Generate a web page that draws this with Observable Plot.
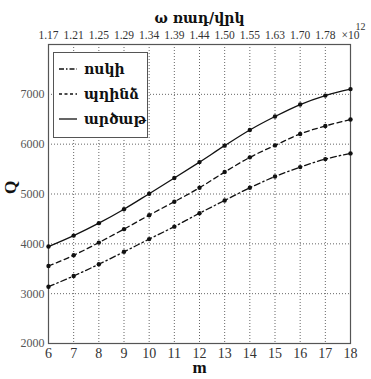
<!DOCTYPE html>
<html><head><meta charset="utf-8">
<script src="https://cdn.jsdelivr.net/npm/d3@7"></script>
<script src="https://cdn.jsdelivr.net/npm/@observablehq/plot@0.6"></script>
<style>
body{margin:0;background:#fff}
#wrap{position:relative;width:371px;height:379px}
#legend{position:absolute;left:53px;top:52px;width:95px;height:86px;border:1px solid #555;background:#fff;box-sizing:border-box;font-family:"DejaVu Serif","Liberation Serif",serif;font-weight:bold;font-size:14px;color:#111}
#legend .row{position:absolute;left:4px;height:20px;display:flex;align-items:center}
#legend svg{margin-right:6px}
</style>
</head><body><div id="wrap"></div>
<script>
const m = [6, 7, 8, 9, 10, 11, 12, 13, 14, 15, 16, 17, 18];
const omegaLabels = ["1.17","1.21","1.25","1.29","1.34","1.39","1.44","1.50","1.55","1.63","1.70","1.78","×10"];
const gold   = [3140, 3355, 3590, 3840, 4095, 4345, 4615, 4870, 5125, 5350, 5540, 5700, 5815];
const copper = [3555, 3770, 4025, 4295, 4575, 4845, 5125, 5440, 5735, 5975, 6205, 6365, 6495];
const silver = [3945, 4165, 4415, 4695, 5005, 5320, 5640, 5970, 6285, 6555, 6795, 6975, 7105];
const seriesNames = ["ոսկի", "պղինձ", "արծաթ"];
const dashes = ["6,3,1.5,3", "5,3.5", null];
const yTicks = [2000, 3000, 4000, 5000, 6000, 7000];
const yGrid = [3000, 4000, 5000, 6000, 7000];
const xTitle = "m", yTitle = "Q", topTitle = "ω ռադ/վրկ", expText = "12";

const allSeries = [gold, copper, silver];
const rows = allSeries.map((vals, i) => m.map((x, j) => ({m: x, Q: vals[j], s: seriesNames[i]})));

const marks = [
  Plot.gridX({ticks: m.slice(1, -1), stroke: "#666", strokeOpacity: 1, strokeDasharray: "1,2"}),
  Plot.gridY({ticks: yGrid, stroke: "#666", strokeOpacity: 1, strokeDasharray: "1,2"}),
  Plot.frame({stroke: "#555", strokeWidth: 1.2}),
];
rows.forEach((r, i) => {
  marks.push(Plot.line(r, {x: "m", y: "Q", stroke: "#111", strokeWidth: 1.3, curve: "monotone-x", strokeDasharray: dashes[i]}));
  marks.push(Plot.dot(r, {x: "m", y: "Q", r: 2.2, fill: "#111"}));
});
marks.push(
  Plot.axisX({anchor: "bottom", ticks: m, tickSize: 0, tickPadding: 5, fontSize: 14, label: null, color: "#333"}),
  Plot.axisX({anchor: "top", ticks: m, tickSize: 0, tickPadding: 6, fontSize: 11.5, label: null, color: "#333",
    tickFormat: d => omegaLabels[m.indexOf(d)]}),
  Plot.axisY({anchor: "left", ticks: yTicks, tickSize: 0, tickPadding: 4, fontSize: 12, label: null, color: "#555", tickFormat: "d"}),
  Plot.text([topTitle], {frameAnchor: "top", dy: -31, fontSize: 14, fontWeight: "bold", fill: "#111", text: d => d}),
  Plot.text([expText], {frameAnchor: "top-right", dx: 15, dy: -22, fontSize: 10, fill: "#333", text: d => d}),
  Plot.text([xTitle], {frameAnchor: "bottom", dy: 29, fontSize: 17, fontWeight: "bold", fill: "#111", text: d => d}),
  Plot.text([yTitle], {frameAnchor: "left", dx: -38, rotate: -90, fontSize: 17, fontWeight: "bold", fill: "#111", text: d => d})
);

const chart = Plot.plot({
  width: 371, height: 379,
  marginLeft: 48, marginRight: 21, marginTop: 44, marginBottom: 36,
  x: {domain: [6, 18]},
  y: {domain: [2000, 8000]},
  marks
});
const wrap = document.getElementById("wrap");
wrap.appendChild(chart);
chart.querySelectorAll("text").forEach(t => {
  const fam = /[\u0530-\u058F]/.test(t.textContent) ? "DejaVu Serif" : "Liberation Serif";
  t.setAttribute("font-family", fam);
  t.style.fontFamily = `"${fam}"`;
  t.style.fontVariant = "normal";
});

const legend = document.createElement("div");
legend.id = "legend";
seriesNames.forEach((name, i) => {
  const row = document.createElement("div");
  row.className = "row";
  row.style.top = (6 + i * 25) + "px";
  row.innerHTML = `<svg width="20" height="10"><line x1="1" y1="5" x2="19" y2="5" stroke="#111" stroke-width="1.3" ${dashes[i] ? `stroke-dasharray="${i === 0 ? "5,2,1.5,2" : "3,2.5"}"` : ""}/></svg><span>${name}</span>`;
  legend.appendChild(row);
});
wrap.appendChild(legend);
</script>
</body></html>
